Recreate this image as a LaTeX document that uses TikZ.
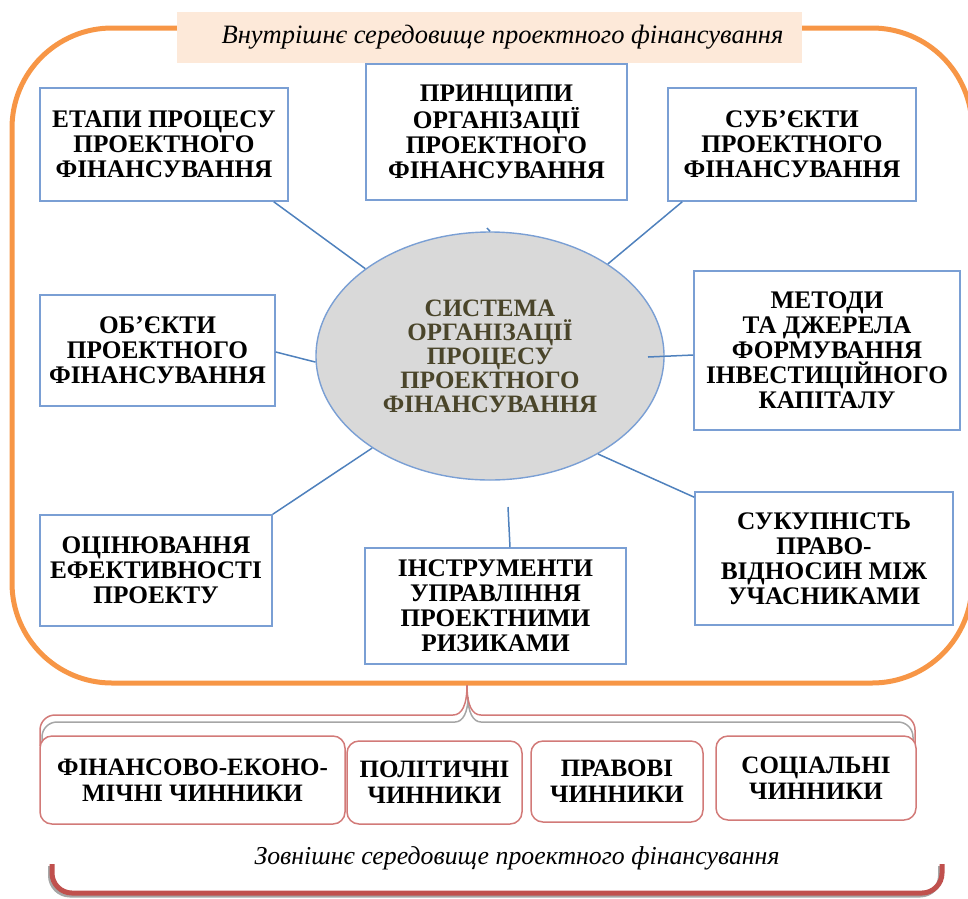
\documentclass[tikz,border=0pt]{standalone}
\usepackage{fontspec}
\setmainfont{Liberation Serif}
\usetikzlibrary{shapes.geometric,calc}
\definecolor{frameorange}{HTML}{F79646}
\definecolor{labelfill}{HTML}{FDE9D9}
\definecolor{boxblue}{HTML}{7A9FD4}
\definecolor{linkblue}{HTML}{4F81BD}
\definecolor{coregrey}{HTML}{D9D9D9}
\definecolor{coretext}{HTML}{4A452A}
\definecolor{factorred}{HTML}{D27A78}
\definecolor{bracered}{HTML}{C0504D}
\definecolor{shadowgrey}{HTML}{A6A6A6}
\begin{document}
\begin{tikzpicture}[x=1pt,y=-1pt,
  stagebox/.style={draw=boxblue, line width=1.6pt, fill=white, align=center,
    font=\fontsize{25.3}{25}\selectfont\bfseries, inner sep=0pt},
  core/.style={ellipse, draw=boxblue, line width=1.4pt, fill=coregrey, align=center,
    text=coretext, font=\fontsize{25}{24}\selectfont\bfseries, inner sep=0pt},
  link/.style={draw=linkblue, line width=1.5pt},
  factor/.style={draw=factorred, line width=1.5pt, fill=white, rounded corners=12pt,
    align=center, font=\fontsize{25}{26}\selectfont\bfseries, inner sep=0pt},
  envlabel/.style={font=\fontsize{26.5}{26.5}\selectfont\itshape, inner sep=0pt}
]
\useasboundingbox (0,0) rectangle (968,898);

% inner environment frame
\draw[frameorange, line width=5pt, rounded corners=100pt] (12,28) rectangle (972,683);
\node[fill=labelfill, minimum width=625pt, minimum height=51pt, inner sep=0pt] (inlabel) at (489.5,37.5) {};
\node[envlabel] (intext) at ($(inlabel.center)+(13,0)$) {Внутрішнє середовище проектного фінансування};

% central ellipse
\node[core, minimum width=348pt, minimum height=248pt] (core) at (490,356)
  {СИСТЕМА\\ОРГАНІЗАЦІЇ\\ПРОЦЕСУ\\ПРОЕКТНОГО\\ФІНАНСУВАННЯ};

% surrounding boxes
\node[stagebox, minimum width=248pt, minimum height=113pt] (stages) at (164,144.5)
  {ЕТАПИ ПРОЦЕСУ\\ПРОЕКТНОГО\\ФІНАНСУВАННЯ};
\node[stagebox, minimum width=261pt, minimum height=136pt] (principles) at (496.5,132)
  {ПРИНЦИПИ\\ОРГАНІЗАЦІЇ\\ПРОЕКТНОГО\\ФІНАНСУВАННЯ};
\node[stagebox, minimum width=248pt, minimum height=113pt] (subjects) at (792,144.5)
  {СУБ’ЄКТИ\\ПРОЕКТНОГО\\ФІНАНСУВАННЯ};
\node[stagebox, minimum width=235pt, minimum height=111pt] (objects) at (157.5,350.5)
  {ОБ’ЄКТИ\\ПРОЕКТНОГО\\ФІНАНСУВАННЯ};
\node[stagebox, minimum width=266pt, minimum height=159pt] (methods) at (827,350.5)
  {МЕТОДИ\\ТА ДЖЕРЕЛА\\ФОРМУВАННЯ\\ІНВЕСТИЦІЙНОГО\\КАПІТАЛУ};
\node[stagebox, minimum width=232pt, minimum height=111pt] (evaluation) at (156,570.5)
  {ОЦІНЮВАННЯ\\ЕФЕКТИВНОСТІ\\ПРОЕКТУ};
\node[stagebox, minimum width=261pt, minimum height=116pt] (tools) at (495.5,606)
  {ІНСТРУМЕНТИ\\УПРАВЛІННЯ\\ПРОЕКТНИМИ\\РИЗИКАМИ};
\node[stagebox, minimum width=258pt, minimum height=133pt] (relations) at (824,558.5)
  {СУКУПНІСТЬ\\ПРАВО-\\ВІДНОСИН МІЖ\\УЧАСНИКАМИ};

% connectors
\coordinate (stubtop) at (487,228);
\coordinate (methodsin) at (648,357);
\coordinate (toolsin) at (508,507);
\coordinate (relationsin) at (598,454);
\draw[link] ($(stages.south east)+(-15,0)$) -- (core.145);
\draw[link] (stubtop) -- (core.north);
\draw[link] ($(subjects.south west)+(15,0)$) -- (core.38);
\draw[link] ($(objects.east)+(0,1.5)$) -- (core.182);
\draw[link] (methodsin) -- ($(methods.west)+(0,4.5)$);
\draw[link] (evaluation.north east) -- (core.218);
\draw[link] (toolsin) -- ($(tools.north)+(14.5,0)$);
\draw[link] (relationsin) -- ($(relations.north west)+(0,6)$);

% brace joining the inner frame to the external factors
\draw[shadowgrey, line width=1.5pt]
  (42,752) -- (42,737) arc[start angle=180, end angle=270, radius=15] -- (455,722)
  .. controls (463,722) and (468,712) .. (468,697)
  .. controls (468,712) and (473,722) .. (481,722) -- (898,722)
  arc[start angle=270, end angle=360, radius=15] -- (913,752);
\draw[factorred, line width=1.5pt]
  (40,746) -- (40,730) arc[start angle=180, end angle=270, radius=15] -- (453,715)
  .. controls (462,715) and (467,705) .. (467,685)
  .. controls (467,705) and (472,715) .. (481,715) -- (900,715)
  arc[start angle=270, end angle=360, radius=15] -- (915,746);

% external factors
\node[factor, minimum width=305pt, minimum height=88pt] (finance) at (192.5,780)
  {ФІНАНСОВО-ЕКОНО-\\МІЧНІ ЧИННИКИ};
\node[factor, minimum width=175pt, minimum height=83pt] (politics) at (434.5,782.5)
  {ПОЛІТИЧНІ\\ЧИННИКИ};
\node[factor, minimum width=172pt, minimum height=81pt] (law) at (617,781.5)
  {ПРАВОВІ\\ЧИННИКИ};
\node[factor, minimum width=200pt, minimum height=84pt] (social) at (816,778)
  {СОЦІАЛЬНІ\\ЧИННИКИ};

% outer environment bracket
\draw[shadowgrey, line width=4pt, rounded corners=20pt] (50,866) -- (50,895.5) -- (940,895.5) -- (940,866);
\draw[bracered, line width=5pt, rounded corners=20pt] (52,864) -- (52,893) -- (942,893) -- (942,864);
\node[envlabel, font=\fontsize{25.8}{25.8}\selectfont\itshape] (outlabel) at (517,858)
  {Зовнішнє середовище проектного фінансування};
\end{tikzpicture}
\end{document}
